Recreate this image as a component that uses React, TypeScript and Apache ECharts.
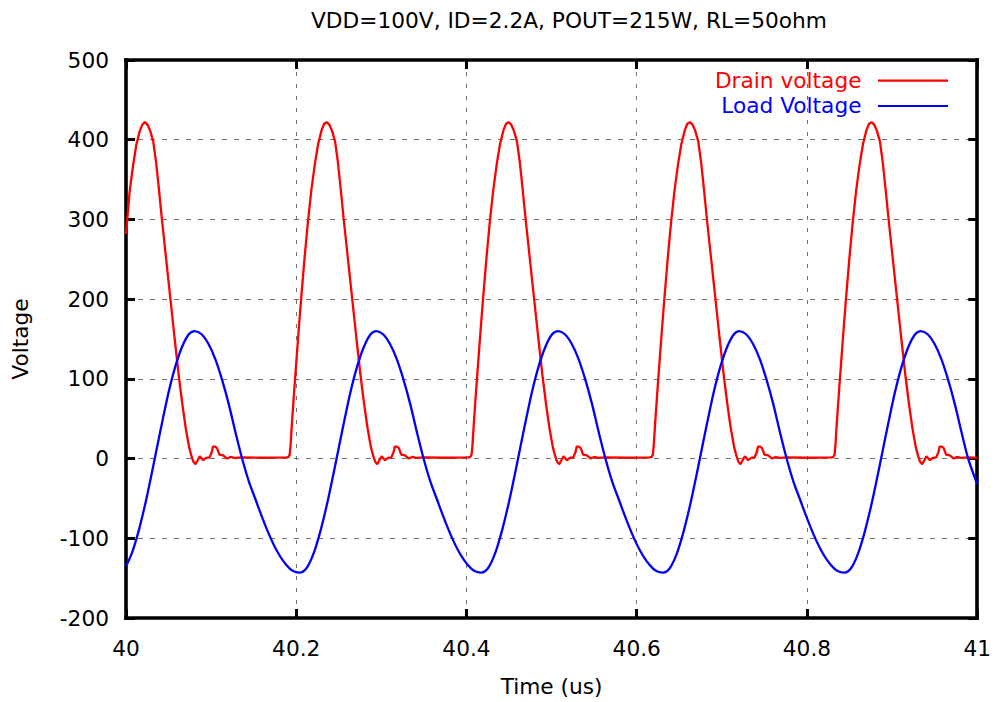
import React, { useEffect, useRef } from "react";
import * as echarts from "echarts";

const chartTitle = "VDD=100V, ID=2.2A, POUT=215W, RL=50ohm";
const xAxisName = "Time (us)";
const yAxisName = "Voltage";
const seriesNames = ["Drain voltage", "Load Voltage"];
const seriesColors = ["#ff0000", "#0000ff"];
const xMin = 40;
const xMax = 41;
const xStep = 0.2;
const yMin = -200;
const yMax = 500;
const yStep = 100;

// Drain voltage: [time (us), volts]
const drainVoltage: [number, number][] = [
  [40.0000, 282], [40.0042, 334], [40.0082, 367], [40.0122, 394], [40.0162, 411], [40.0192, 419], [40.0222, 422],
  [40.0252, 419], [40.0282, 412], [40.0320, 398], [40.0352, 373], [40.0382, 343], [40.0422, 300], [40.0472, 250],
  [40.0522, 200], [40.0572, 150], [40.0622, 102], [40.0662, 68], [40.0702, 38], [40.0742, 14], [40.0772, 2],
  [40.0792, -4], [40.0817, -7], [40.0837, -3], [40.0867, 3], [40.0907, -2], [40.0942, 1], [40.0982, 1.5],
  [40.1007, 8], [40.1022, 15], [40.1047, 15], [40.1070, 13], [40.1097, 5], [40.1142, 4], [40.1187, 0],
  [40.1227, 2], [40.1272, 1], [40.1372, 1.5], [40.1622, 1],
  [40.1888, 1.5], [40.1908, 2], [40.1923, 5], [40.1933, 16], [40.1948, 42], [40.1978, 88], [40.1998, 117],
  [40.2028, 160], [40.2058, 201], [40.2098, 252], [40.2138, 298], [40.2178, 337], [40.2218, 369], [40.2258, 395],
  [40.2298, 412], [40.2328, 420], [40.2358, 422],
  [40.2388, 419], [40.2418, 412], [40.2456, 398], [40.2488, 373], [40.2518, 343], [40.2558, 300], [40.2608, 250],
  [40.2658, 200], [40.2708, 150], [40.2758, 102], [40.2798, 68], [40.2838, 38], [40.2878, 14], [40.2908, 2],
  [40.2928, -4], [40.2953, -7], [40.2973, -3], [40.3003, 3], [40.3043, -2], [40.3078, 1], [40.3118, 1.5],
  [40.3143, 8], [40.3158, 15], [40.3183, 15], [40.3206, 13], [40.3233, 5], [40.3278, 4], [40.3323, 0],
  [40.3363, 2], [40.3408, 1], [40.3508, 1.5], [40.3758, 1],
  [40.4025, 1.5], [40.4045, 2], [40.4060, 5], [40.4070, 16], [40.4085, 42], [40.4115, 88], [40.4135, 117],
  [40.4165, 160], [40.4195, 201], [40.4235, 252], [40.4275, 298], [40.4315, 337], [40.4355, 369], [40.4395, 395],
  [40.4435, 412], [40.4465, 420], [40.4495, 422],
  [40.4525, 419], [40.4555, 412], [40.4593, 398], [40.4625, 373], [40.4655, 343], [40.4695, 300], [40.4745, 250],
  [40.4795, 200], [40.4845, 150], [40.4895, 102], [40.4935, 68], [40.4975, 38], [40.5015, 14], [40.5045, 2],
  [40.5065, -4], [40.5090, -7], [40.5110, -3], [40.5140, 3], [40.5180, -2], [40.5215, 1], [40.5255, 1.5],
  [40.5280, 8], [40.5295, 15], [40.5320, 15], [40.5343, 13], [40.5370, 5], [40.5415, 4], [40.5460, 0],
  [40.5500, 2], [40.5545, 1], [40.5645, 1.5], [40.5895, 1],
  [40.6155, 1.5], [40.6175, 2], [40.6190, 5], [40.6200, 16], [40.6215, 42], [40.6245, 88], [40.6265, 117],
  [40.6295, 160], [40.6325, 201], [40.6365, 252], [40.6405, 298], [40.6445, 337], [40.6485, 369], [40.6525, 395],
  [40.6565, 412], [40.6595, 420], [40.6625, 422],
  [40.6655, 419], [40.6685, 412], [40.6723, 398], [40.6755, 373], [40.6785, 343], [40.6825, 300], [40.6875, 250],
  [40.6925, 200], [40.6975, 150], [40.7025, 102], [40.7065, 68], [40.7105, 38], [40.7145, 14], [40.7175, 2],
  [40.7195, -4], [40.7220, -7], [40.7240, -3], [40.7270, 3], [40.7310, -2], [40.7345, 1], [40.7385, 1.5],
  [40.7410, 8], [40.7425, 15], [40.7450, 15], [40.7473, 13], [40.7500, 5], [40.7545, 4], [40.7590, 0],
  [40.7630, 2], [40.7675, 1], [40.7775, 1.5], [40.8025, 1],
  [40.8289, 1.5], [40.8309, 2], [40.8324, 5], [40.8334, 16], [40.8349, 42], [40.8379, 88], [40.8399, 117],
  [40.8429, 160], [40.8459, 201], [40.8499, 252], [40.8539, 298], [40.8579, 337], [40.8619, 369], [40.8659, 395],
  [40.8699, 412], [40.8729, 420], [40.8759, 422],
  [40.8789, 419], [40.8819, 412], [40.8857, 398], [40.8889, 373], [40.8919, 343], [40.8959, 300], [40.9009, 250],
  [40.9059, 200], [40.9109, 150], [40.9159, 102], [40.9199, 68], [40.9239, 38], [40.9279, 14], [40.9309, 2],
  [40.9329, -4], [40.9354, -7], [40.9374, -3], [40.9404, 3], [40.9444, -2], [40.9479, 1], [40.9519, 1.5],
  [40.9544, 8], [40.9559, 15], [40.9584, 15], [40.9607, 13], [40.9634, 5], [40.9679, 4], [40.9724, 0],
  [40.9764, 2], [40.9809, 1], [40.9909, 1.5], [41.0000, 1],
];

// Load voltage: [time (us), volts]
const loadVoltage: [number, number][] = [
  [40.0000, -135], [40.0068, -119], [40.0148, -91], [40.0228, -56], [40.0288, -26], [40.0338, 0],
  [40.0418, 42], [40.0498, 82], [40.0578, 115], [40.0658, 140], [40.0738, 156], [40.0808, 160],
  [40.0888, 156], [40.0968, 144], [40.1048, 125], [40.1128, 99], [40.1208, 68], [40.1288, 32], [40.1364, 0],
  [40.1444, -29], [40.1524, -52], [40.1604, -75], [40.1684, -96], [40.1764, -114], [40.1844, -128],
  [40.1924, -138], [40.1984, -142], [40.2044, -143], [40.2124, -137], [40.2204, -119], [40.2284, -91],
  [40.2364, -56], [40.2424, -26], [40.2474, 0], [40.2554, 42], [40.2634, 82], [40.2714, 115], [40.2794, 140],
  [40.2874, 156], [40.2940, 160],
  [40.3020, 156], [40.3100, 144], [40.3180, 125], [40.3260, 99], [40.3340, 68], [40.3420, 32], [40.3496, 0],
  [40.3576, -29], [40.3656, -52], [40.3736, -75], [40.3816, -96], [40.3896, -114], [40.3976, -128],
  [40.4056, -138], [40.4116, -142], [40.4176, -143], [40.4256, -137], [40.4336, -119], [40.4416, -91],
  [40.4496, -56], [40.4556, -26], [40.4606, 0], [40.4686, 42], [40.4766, 82], [40.4846, 115], [40.4926, 140],
  [40.5006, 156], [40.5076, 160],
  [40.5156, 156], [40.5236, 144], [40.5316, 125], [40.5396, 99], [40.5476, 68], [40.5556, 32], [40.5632, 0],
  [40.5712, -29], [40.5792, -52], [40.5872, -75], [40.5952, -96], [40.6032, -114], [40.6112, -128],
  [40.6192, -138], [40.6252, -142], [40.6312, -143], [40.6392, -137], [40.6472, -119], [40.6552, -91],
  [40.6632, -56], [40.6692, -26], [40.6742, 0], [40.6822, 42], [40.6902, 82], [40.6982, 115], [40.7062, 140],
  [40.7142, 156], [40.7205, 160],
  [40.7285, 156], [40.7365, 144], [40.7445, 125], [40.7525, 99], [40.7605, 68], [40.7685, 32], [40.7761, 0],
  [40.7841, -29], [40.7921, -52], [40.8001, -75], [40.8081, -96], [40.8161, -114], [40.8241, -128],
  [40.8321, -138], [40.8381, -142], [40.8441, -143], [40.8521, -137], [40.8601, -119], [40.8681, -91],
  [40.8761, -56], [40.8821, -26], [40.8871, 0], [40.8951, 42], [40.9031, 82], [40.9111, 115], [40.9191, 140],
  [40.9271, 156], [40.9338, 160],
  [40.9418, 156], [40.9498, 144], [40.9578, 125], [40.9658, 99], [40.9738, 68], [40.9818, 32], [40.9894, 0],
  [41.0000, -32],
];

const FONT = "DejaVu Sans";
const FS = 21.7;

export default function App() {
  const ref = useRef<HTMLDivElement>(null);

  useEffect(() => {
    document.body.style.margin = "0";
    if (!ref.current) return;
    const chart = echarts.init(ref.current, undefined, { renderer: "svg" });

    const frameLine = { show: true, onZero: false, lineStyle: { color: "#000", width: 3.6, cap: "square" } };
    const tick = { show: true, inside: true, length: 9, lineStyle: { color: "#000", width: 3 } };

    chart.setOption({
      animation: false,
      backgroundColor: "#fff",
      title: {
        text: chartTitle,
        left: 311,
        top: 9,
        padding: 0,
        textStyle: { fontFamily: FONT, fontSize: FS, fontWeight: "normal", color: "#000" },
      },
      grid: { left: 126, right: 14, top: 60, bottom: 80, containLabel: false },
      xAxis: [
        {
          type: "value",
          position: "bottom",
          min: xMin,
          max: xMax,
          interval: xStep,
          name: xAxisName,
          nameLocation: "middle",
          nameGap: 57,
          nameTextStyle: { fontFamily: FONT, fontSize: FS, color: "#000" },
          axisLine: frameLine,
          axisTick: tick,
          axisLabel: { margin: 19.5, fontFamily: FONT, fontSize: FS, color: "#000" },
          splitLine: { show: true, lineStyle: { color: "#707070", width: 1, type: [4, 8] } },
        },
        {
          type: "value",
          position: "top",
          min: xMin,
          max: xMax,
          interval: xStep,
          axisLine: frameLine,
          axisTick: tick,
          axisLabel: { show: false },
          splitLine: { show: false },
        },
      ],
      yAxis: [
        {
          type: "value",
          position: "left",
          min: yMin,
          max: yMax,
          interval: yStep,
          name: yAxisName,
          nameLocation: "middle",
          nameGap: 95,
          nameTextStyle: { fontFamily: FONT, fontSize: FS, color: "#000" },
          axisLine: frameLine,
          axisTick: tick,
          axisLabel: { margin: 17, fontFamily: FONT, fontSize: FS, color: "#000" },
          splitLine: { show: true, lineStyle: { color: "#707070", width: 1, type: [5, 7] } },
        },
        {
          type: "value",
          position: "right",
          min: yMin,
          max: yMax,
          interval: yStep,
          axisLine: frameLine,
          axisTick: tick,
          axisLabel: { show: false },
          splitLine: { show: false },
        },
      ],
      legend: { show: false },
      graphic: [
        {
          type: "text",
          right: 994 - 861.5,
          top: 80 - FS / 2,
          style: { text: seriesNames[0], fill: seriesColors[0], font: `${FS}px "${FONT}"`, textAlign: "right" },
        },
        {
          type: "line",
          shape: { x1: 878, y1: 80.7, x2: 948, y2: 80.7 },
          style: { stroke: seriesColors[0], lineWidth: 2.2 },
        },
        {
          type: "text",
          right: 994 - 861.5,
          top: 105 - FS / 2,
          style: { text: seriesNames[1], fill: seriesColors[1], font: `${FS}px "${FONT}"`, textAlign: "right" },
        },
        {
          type: "line",
          shape: { x1: 878, y1: 106, x2: 948, y2: 106 },
          style: { stroke: seriesColors[1], lineWidth: 2.2 },
        },
      ],
      series: [
        {
          name: seriesNames[0],
          type: "line",
          data: drainVoltage,
          showSymbol: false,
          smooth: false,
          lineStyle: { color: seriesColors[0], width: 2.3 },
          itemStyle: { color: seriesColors[0] },
          z: 3,
        },
        {
          name: seriesNames[1],
          type: "line",
          data: loadVoltage,
          showSymbol: false,
          smooth: 0.3,
          lineStyle: { color: seriesColors[1], width: 2.3 },
          itemStyle: { color: seriesColors[1] },
          z: 3,
        },
      ],
    });

    return () => chart.dispose();
  }, []);

  return <div ref={ref} style={{ width: 994, height: 702 }} />;
}
